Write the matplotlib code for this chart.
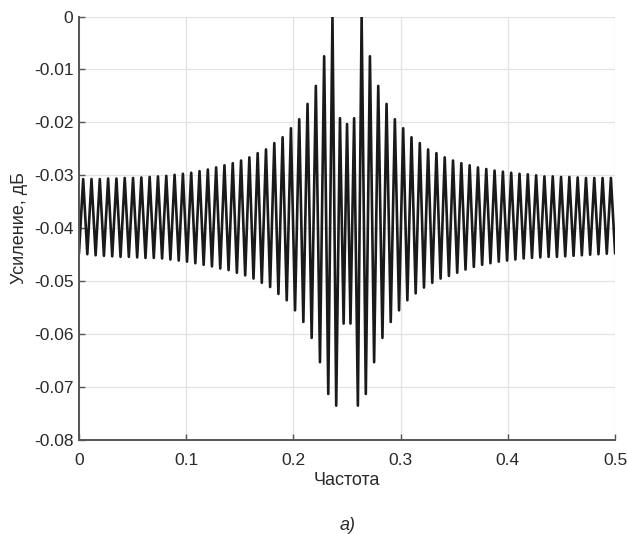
import matplotlib
matplotlib.use("Agg")
import matplotlib.pyplot as plt

plt.rcParams["font.family"] = ["Liberation Sans", "DejaVu Sans"]

# local maxima of the ripple (frequency, gain dB)
peak_freq = [
    0.0039, 0.01165, 0.0194, 0.02715, 0.0349, 0.04265, 0.0504, 0.05815,
    0.0659, 0.07365, 0.0814, 0.08915, 0.0969, 0.10465, 0.1124, 0.12015,
    0.1279, 0.13565, 0.1434, 0.15115, 0.1589, 0.16665, 0.1744, 0.18215,
    0.1899, 0.19765, 0.2054, 0.21315, 0.2209, 0.22865, 0.2364,
    0.2434, 0.2500, 0.2566,
    0.2636, 0.27135, 0.2791, 0.28685, 0.2946, 0.30235, 0.3101, 0.31785,
    0.3256, 0.33335, 0.3411, 0.34885, 0.3566, 0.36435, 0.3721, 0.37985,
    0.3876, 0.39535, 0.4031, 0.41085, 0.4186, 0.42635, 0.4341, 0.44185,
    0.4496, 0.45735, 0.4651, 0.47285, 0.4806, 0.48835, 0.4961,
]
peak_gain = [
    -0.0307, -0.0307, -0.0307, -0.0306, -0.0306, -0.0305, -0.0305, -0.0304,
    -0.0303, -0.0302, -0.0301, -0.0299, -0.0297, -0.0295, -0.0292, -0.0289,
    -0.0285, -0.0281, -0.0277, -0.0272, -0.0266, -0.0258, -0.0251, -0.0239,
    -0.0228, -0.0211, -0.0194, -0.0165, -0.0131, -0.0075, 0.0,
    -0.0192, -0.0203, -0.0192,
    0.0, -0.0075, -0.0131, -0.0165, -0.0194, -0.0211, -0.0228, -0.0239,
    -0.0251, -0.0258, -0.0266, -0.0272, -0.0277, -0.0281, -0.0285, -0.0288,
    -0.0291, -0.0293, -0.0295, -0.0297, -0.0298, -0.0300, -0.0302, -0.0302,
    -0.0303, -0.0303, -0.0304, -0.0305, -0.0305, -0.0305, -0.0305,
]

# local minima of the ripple
trough_freq = [
    0.0, 0.00775, 0.0155, 0.02325, 0.031, 0.03875, 0.0465, 0.05425,
    0.062, 0.06975, 0.0775, 0.08525, 0.093, 0.10075, 0.1085, 0.11625,
    0.124, 0.13175, 0.1395, 0.14725, 0.155, 0.16275, 0.1705, 0.17825,
    0.186, 0.19375, 0.2015, 0.20925, 0.217, 0.22475, 0.2325,
    0.2399, 0.2468, 0.2532, 0.2601,
    0.2675, 0.27525, 0.283, 0.29075, 0.2985, 0.30625, 0.314, 0.32175,
    0.3295, 0.33725, 0.345, 0.35275, 0.3605, 0.36825, 0.376, 0.38375,
    0.3915, 0.39925, 0.407, 0.41475, 0.4225, 0.43025, 0.438, 0.44575,
    0.4535, 0.46125, 0.469, 0.47675, 0.4845, 0.49225, 0.5,
]
trough_gain = [
    -0.0446, -0.0449, -0.0451, -0.0452, -0.0453, -0.0454, -0.0454, -0.0455,
    -0.0456, -0.0456, -0.0457, -0.0459, -0.0461, -0.0463, -0.0466, -0.0469,
    -0.0472, -0.0476, -0.0479, -0.0484, -0.0489, -0.0495, -0.0503, -0.0511,
    -0.0524, -0.0536, -0.0555, -0.0577, -0.0607, -0.0653, -0.0713,
    -0.0735, -0.0580, -0.0580, -0.0735,
    -0.0713, -0.0653, -0.0607, -0.0577, -0.0555, -0.0536, -0.0523, -0.0512,
    -0.0503, -0.0495, -0.0490, -0.0484, -0.0478, -0.0473, -0.0469, -0.0466,
    -0.0463, -0.0461, -0.0459, -0.0457, -0.0456, -0.0455, -0.0454, -0.0454,
    -0.0453, -0.0452, -0.0451, -0.0450, -0.0449, -0.0448, -0.0447,
]

x_ticks = [0, 0.1, 0.2, 0.3, 0.4, 0.5]
y_ticks = [0, -0.01, -0.02, -0.03, -0.04, -0.05, -0.06, -0.07, -0.08]

# join maxima and minima into one response curve, ordered by frequency
points = sorted(zip(peak_freq + trough_freq, peak_gain + trough_gain))
freq = [p[0] for p in points]
gain = [p[1] for p in points]

fig = plt.figure(figsize=(6.27, 5.34), dpi=100)
ax = fig.add_axes([0.126, 0.176, 0.855, 0.793])

ax.plot(freq, gain, color="#1a1a1a", lw=1.9, solid_joinstyle="round")

ax.set_xlim(0, 0.5)
ax.set_ylim(-0.08, 0)
ax.set_xticks(x_ticks)
ax.set_xticklabels([f"{t:g}" for t in x_ticks])
ax.set_yticks(y_ticks)
ax.set_yticklabels([f"{t:g}" for t in y_ticks])

ax.grid(True, color="#e3e3e3", lw=0.9)
ax.set_axisbelow(True)
for side in ["top", "right"]:
    ax.spines[side].set_visible(False)
for side in ["left", "bottom"]:
    ax.spines[side].set_color("#555555")
    ax.spines[side].set_linewidth(1.4)
ax.tick_params(direction="in", length=4, width=1, color="#555555",
               labelsize=12.5, labelcolor="#2a2a2a")
ax.tick_params(axis="x", pad=9)
ax.tick_params(axis="y", pad=4)

ax.set_xlabel("Частота", fontsize=13, color="#2a2a2a", labelpad=3)
ax.set_ylabel("Усиление, дБ", fontsize=13, color="#2a2a2a", labelpad=4)

fig.text(0.555, 0.016, "а)", fontsize=13, style="italic", color="#2a2a2a",
         ha="center", va="center")

fig.savefig("out.png", dpi=100)
